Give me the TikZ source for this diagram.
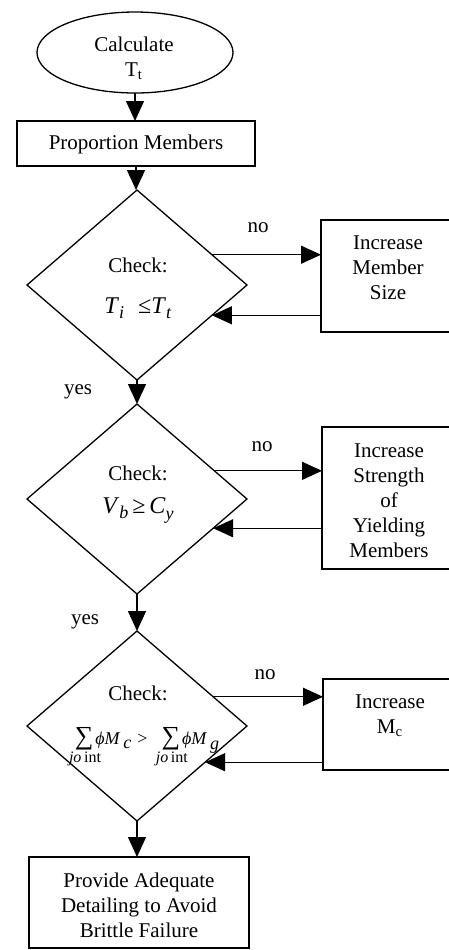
\documentclass[tikz,border=0pt]{standalone}
\usepackage{fontspec}
\setmainfont{Liberation Serif}
\usetikzlibrary{shapes.geometric,arrows.meta}
\newcommand{\jsum}{\begin{tabular}[t]{@{}c@{}}{\fontsize{13pt}{13pt}\selectfont ∑}\\[-2pt]\makebox[0pt]{\hspace{1pt}\fontsize{8pt}{9pt}\selectfont\textit{jo}\,int}\end{tabular}}
\begin{document}
\begin{tikzpicture}[x=0.5pt,y=-0.5pt,
  ln/.style={line width=0.65pt},
  txt/.style={align=center, inner sep=0pt, outer sep=0pt, font=\fontsize{10.5pt}{12.5pt}\selectfont},
  boxnode/.style={draw, ln, rectangle, inner sep=0pt, outer sep=0pt},
  ovalnode/.style={draw, ln, ellipse, inner sep=0pt, outer sep=0pt},
  decision/.style={draw, ln, diamond, inner sep=0pt, outer sep=0pt, minimum width=110pt, minimum height=95pt},
  arr/.style={ln, -{Triangle[length=10pt,width=9pt]}}]
\useasboundingbox (0,0) rectangle (449,950);
% shapes
\node[ovalnode, minimum width=98pt, minimum height=40.5pt] (e) at (135,52.5) {};
\node[boxnode, minimum width=119pt, minimum height=22.5pt] (p) at (136,143.5) {};
\node[decision] (d1) at (137,285) {};
\node[decision] (d2) at (137,499) {};
\node[decision] (d3) at (137,726) {};
\node[boxnode, minimum width=110pt, minimum height=45.5pt] (bb) at (139,902.5) {};
\node[boxnode, minimum width=67pt, minimum height=56pt] (b1) at (388,276) {};
\node[boxnode, minimum width=66.5pt, minimum height=71pt] (b2) at (388.5,498) {};
\node[boxnode, minimum width=66pt, minimum height=45.5pt] (b3) at (389,724.5) {};
% texts
\node[txt] (te) at (134,58) {Calculate\\T\textsubscript{t}};
\node[txt] (tp) at (136,144) {Proportion Members};
\node[txt] (t1) at (138,288) {Check:\\[8pt]{\fontsize{12pt}{14pt}\selectfont\textit{T}\raisebox{-2.5pt}{\fontsize{9pt}{9pt}\selectfont\textit{i}}\hspace{7pt}≤\textit{T}\raisebox{-2.5pt}{\fontsize{9pt}{9pt}\selectfont\textit{t}}}};
\node[txt] (t2) at (138,495) {Check:\\[4pt]{\fontsize{12pt}{14pt}\selectfont\textit{V}\raisebox{-2.5pt}{\fontsize{9pt}{9pt}\selectfont\textit{b}}\,≥\,\textit{C}\raisebox{-3pt}{\fontsize{9pt}{9pt}\selectfont\textit{y}}}};
\node[txt] (t3) at (138,693) {Check:};
\node[txt, anchor=base] (f3) at (147,744) {\fontsize{9pt}{11pt}\selectfont\jsum\hspace{1pt}\textit{ϕM}\raisebox{-2pt}{\,\textit{c}}\hspace{3pt}>\hspace{7pt}\jsum\hspace{1pt}\textit{ϕM}\raisebox{-2.5pt}{\,\textit{g}}};
\node[txt] (tb) at (139,905) {Provide Adequate\\Detailing to Avoid\\Brittle Failure};
\node[txt] (tb1) at (388,268) {Increase\\Member\\Size};
\node[txt] (tb2) at (389,501) {Increase\\Strength\\of\\Yielding\\Members};
\node[txt] (tb3) at (390,715.5) {Increase\\M\textsubscript{c}};
\node[txt] (no1) at (258,228) {no};
\node[txt] (no2) at (262,447) {no};
\node[txt] (no3) at (265,675) {no};
\node[txt] (yes1) at (78,392) {yes};
\node[txt] (yes2) at (85,622) {yes};
% connectors
\draw[arr] (e.south) -- (e.south |- p.north);
\draw[arr] (p.south) -- (p.south |- d1.north);
\draw[arr] (d1.south) -- (d2.north);
\draw[arr] (d2.south) -- (d3.north);
\draw[arr] (d3.south) -- (d3.south |- bb.north);
\draw[arr] (d1.22) -- (d1.22 -| b1.west);
\draw[arr] (d1.-22 -| b1.west) -- (d1.-22);
\draw[arr] (d2.20) -- (d2.20 -| b2.west);
\draw[arr] (d2.-21 -| b2.west) -- (d2.-21);
\draw[arr] (d3.21) -- (d3.21 -| b3.west);
\draw[arr] (d3.-28 -| b3.west) -- (d3.-28);
\end{tikzpicture}
\end{document}
